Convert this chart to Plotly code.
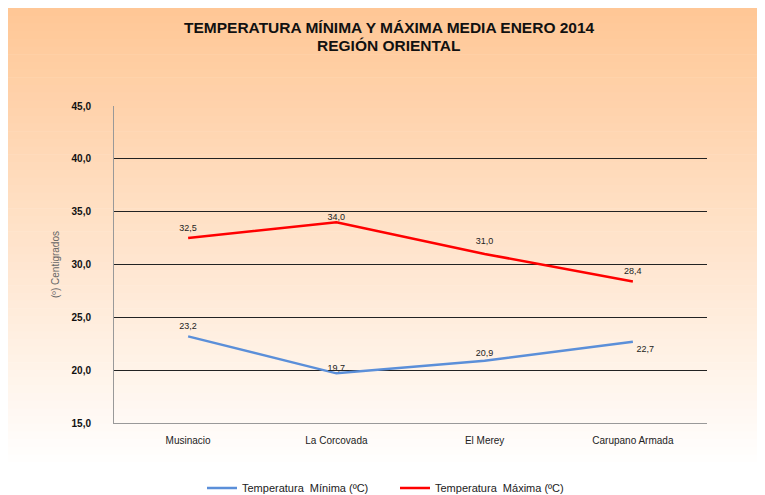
import plotly.graph_objects as go

categories = ["Musinacio", "La Corcovada", "El Merey", "Carupano Armada"]
t_min = [23.2, 19.7, 20.9, 22.7]
t_max = [32.5, 34.0, 31.0, 28.4]
y_ticks = [15, 20, 25, 30, 35, 40, 45]
y_tick_labels = ["15,0", "20,0", "25,0", "30,0", "35,0", "40,0", "45,0"]

W, H = 765, 495
# page body offsets the figure by 8px; margins expressed in figure coordinates
L, R, T, B = 106, 66, 98, 80
pw, ph = W - L - R, H - T - B
FONT = "Liberation Sans, Arial"

def fmt(v):
    return f"{v:.1f}".replace(".", ",")

fig = go.Figure()
fig.add_trace(go.Scatter(
    x=categories, y=t_min, mode="lines+markers+text", name="Temperatura  Mínima (ºC)",
    line=dict(color="#5B8FD9", width=2.5),
    marker=dict(size=[6, 0, 2, 4], color="rgba(0,0,0,0)", line=dict(width=0)),
    text=[fmt(v) for v in t_min],
    textposition=["top center", "top center", "top center", "bottom right"],
    textfont=dict(family=FONT, size=9, color="#222"),
))
fig.add_trace(go.Scatter(
    x=categories, y=t_max, mode="lines+markers+text", name="Temperatura  Máxima (ºC)",
    line=dict(color="#FF0000", width=2.5),
    marker=dict(size=[6, 0, 10, 6], color="rgba(0,0,0,0)", line=dict(width=0)),
    text=[fmt(v) for v in t_max],
    textposition="top center",
    textfont=dict(family=FONT, size=9, color="#222"),
))

# background gradient (decorative bands)
shapes = []
fade_px = 462
c0 = (255, 199, 150)
c1 = (255, 255, 255)
n = 60
for i in range(n):
    y0p = fade_px * i / n
    y1p = fade_px * (i + 1) / n + 0.5
    f = i / (n - 1)
    col = tuple(round(c0[k] + (c1[k] - c0[k]) * f) for k in range(3))
    shapes.append(dict(
        type="rect", xref="paper", yref="paper", layer="below",
        x0=-L / pw, x1=(W - L) / pw,
        y0=(H - B - y1p) / ph, y1=(H - B - y0p) / ph,
        fillcolor=f"rgb{col}", line=dict(width=0),
    ))

annotations = [
    dict(text="<b>TEMPERATURA MÍNIMA Y MÁXIMA MEDIA ENERO 2014</b>", xref="paper", yref="paper",
         x=(381 - L) / pw, y=(H - B - 20) / ph, showarrow=False, xanchor="center", yanchor="middle",
         font=dict(family=FONT, size=15.5, color="#111")),
    dict(text="<b>REGIÓN ORIENTAL</b>", xref="paper", yref="paper",
         x=(381 - L) / pw, y=(H - B - 37) / ph, showarrow=False, xanchor="center", yanchor="middle",
         font=dict(family=FONT, size=15.5, color="#111")),
]

fig.update_layout(
    width=W, height=H,
    margin=dict(l=L, r=R, t=T, b=B),
    paper_bgcolor="white",
    plot_bgcolor="rgba(0,0,0,0)",
    shapes=shapes,
    annotations=annotations,
    showlegend=True,
    legend=dict(
        orientation="h", x=194 / W, xanchor="left", xref="container",
        y=(H - 480) / H, yref="container", yanchor="middle",
        font=dict(family=FONT, size=11, color="#222"),
        bgcolor="rgba(0,0,0,0)", entrywidth=148, entrywidthmode="pixels",
    ),
    xaxis=dict(
        showgrid=False, showline=True, linecolor="#999", linewidth=1,
        ticks="", ticklabelstandoff=8,
        tickfont=dict(family=FONT, size=10, color="#222"),
        range=[-0.5, 3.5], fixedrange=True,
    ),
    yaxis=dict(
        range=[15, 45], tickvals=y_ticks, ticktext=y_tick_labels,
        showgrid=True, gridcolor="#222", gridwidth=1,
        showline=True, linecolor="#999", linewidth=1, zeroline=False,
        ticks="", ticklabelstandoff=20,
        tickfont=dict(family=FONT, size=10, color="#111", weight="bold"),
        title=dict(text="(º) Centigrados", standoff=10,
                   font=dict(family=FONT, size=10, color="#666")),
    ),
)

fig.write_html("out.html")
